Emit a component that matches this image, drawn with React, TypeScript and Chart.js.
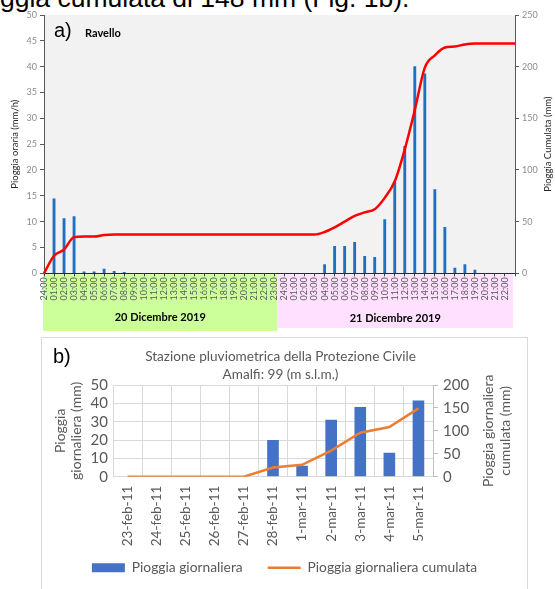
import React, { useEffect, useRef } from 'react';
import { Chart, registerables } from 'chart.js';

Chart.register(...registerables);

// ---------- Data: chart a) Ravello (hourly) ----------
const hoursDay20 = ['24:00','01:00','02:00','03:00','04:00','05:00','06:00','07:00','08:00','09:00','10:00','11:00','12:00','13:00','14:00','15:00','16:00','17:00','18:00','19:00','20:00','21:00','22:00','23:00'];
const hoursDay21 = ['24:00','01:00','02:00','03:00','04:00','05:00','06:00','07:00','08:00','09:00','10:00','11:00','12:00','13:00','14:00','15:00','16:00','17:00','18:00','19:00','20:00','21:00','22:00',''];
const hourlyRainDay20 = [0,14.4,10.6,11.0,0.3,0.3,0.8,0.4,0.2,0,0,0,0,0,0,0,0,0,0,0,0,0,0,0];
const hourlyRainDay21 = [0,0,0,0,1.7,5.2,5.2,6.0,3.3,3.1,10.4,17.6,24.6,40.0,38.6,16.2,8.9,1.0,1.7,0.6,0,0,0,0];
const cumulativeDay20 = [0,17,23,35,35.5,35.5,37,37.5,37.5,37.5,37.5,37.5,37.5,37.5,37.5,37.5,37.5,37.5,37.5,37.5,37.5,37.5,37.5,37.5];
const cumulativeDay21 = [37.5,37.5,37.5,37.5,40,44.5,50,55.5,59,62,73,89,120,158,199,211,218.5,219.5,221.5,222.5,222.5,222.5,222.5,222.5];
const dayLabels = ['20 Dicembre 2019', '21 Dicembre 2019'];

// ---------- Data: chart b) Amalfi (daily) ----------
const dates = ['23-feb-11','24-feb-11','25-feb-11','26-feb-11','27-feb-11','28-feb-11','1-mar-11','2-mar-11','3-mar-11','4-mar-11','5-mar-11'];
const dailyRain = [0,0,0,0,0,20,6,31,38,13,41.5];
const dailyCumulative = [0,0,0,0,0,20,26,57,96,108.5,149];

const FONT = 'Lato, "Open Sans", sans-serif';
const ARIAL = '"Liberation Sans", Arial, sans-serif';
Chart.defaults.font.family = FONT;

const hourLabels = [...hoursDay20, ...hoursDay21];
const hourlyRain = [...hourlyRainDay20, ...hourlyRainDay21];
const cumulativeRain = [...cumulativeDay20, ...cumulativeDay21];

const decorA = {
  id: 'decorA',
  beforeDraw(chart: any) {
    const { ctx, chartArea: ca } = chart;
    const x = chart.scales.x;
    ctx.save();
    ctx.fillStyle = '#f2f2f2';
    ctx.fillRect(ca.left, ca.top, ca.right - ca.left, ca.bottom - ca.top);
    const split = x.getPixelForValue(hoursDay20.length - 1) + 3;
    const bandTop = ca.bottom + 1;
    ctx.fillStyle = '#ccff99';
    ctx.fillRect(ca.left - 1, bandTop, split - ca.left + 1, 331 - bandTop);
    ctx.fillStyle = '#ffe1ff';
    ctx.fillRect(split, bandTop, ca.right - 2 - split, 328 - bandTop);
    ctx.fillStyle = '#000';
    ctx.font = `bold 11px ${FONT}`;
    ctx.textAlign = 'center';
    ctx.textBaseline = 'middle';
    ctx.fillText(dayLabels[0], (ca.left - 1 + split) / 2, 317);
    ctx.fillText(dayLabels[1], (split + ca.right - 2) / 2, 318);
    ctx.restore();
  },
  afterDraw(chart: any) {
    const { ctx, chartArea: ca } = chart;
    const cy = (ca.top + ca.bottom) / 2;
    ctx.save();
    ctx.fillStyle = '#262626';
    ctx.font = `9.5px ${FONT}`;
    ctx.textAlign = 'center';
    ctx.textBaseline = 'middle';
    ctx.translate(15, cy);
    ctx.rotate(-Math.PI / 2);
    ctx.fillText('Pioggia oraria (mm/h)', 0, 0);
    ctx.restore();
    ctx.save();
    ctx.fillStyle = '#262626';
    ctx.font = `9.5px ${FONT}`;
    ctx.textAlign = 'center';
    ctx.textBaseline = 'middle';
    ctx.translate(548, cy);
    ctx.rotate(-Math.PI / 2);
    ctx.fillText('Pioggia Cumulata (mm)', 0, 0);
    ctx.restore();
    ctx.save();
    ctx.fillStyle = '#000';
    ctx.textBaseline = 'alphabetic';
    ctx.textAlign = 'left';
    ctx.font = `20px ${ARIAL}`;
    ctx.fillText('a)', ca.left + 10, 37);
    ctx.font = `bold 11px ${FONT}`;
    ctx.fillText('Ravello', ca.left + 41, 37);
    ctx.restore();
  },
};

const decorB = {
  id: 'decorB',
  afterLayout(chart: any) {
    // let the rotated date labels use the room beside the legend
    const x = chart.scales.x;
    x.bottom = x.top + 80;
  },
  afterDraw(chart: any) {
    const { ctx, chartArea: ca } = chart;
    const cy = (ca.top + ca.bottom) / 2;
    ctx.save();
    ctx.fillStyle = '#595959';
    ctx.font = `13.6px ${FONT}`;
    ctx.textAlign = 'center';
    ctx.textBaseline = 'middle';
    ctx.fillText('Stazione pluviometrica della Protezione Civile', 238.5, 19);
    ctx.fillText('Amalfi: 99 (m s.l.m.)', 238.5, 37);
    ctx.font = `14px ${FONT}`;
    ctx.save();
    ctx.translate(18, cy);
    ctx.rotate(-Math.PI / 2);
    ctx.fillText('Pioggia', 0, 0);
    ctx.fillText('giornaliera (mm)', 0, 16);
    ctx.restore();
    ctx.save();
    ctx.translate(446, cy);
    ctx.rotate(-Math.PI / 2);
    ctx.fillText('Pioggia giornaliera', 0, 0);
    ctx.fillText('cumulata (mm)', 0, 17);
    ctx.restore();
    ctx.fillStyle = '#000';
    ctx.textAlign = 'left';
    ctx.textBaseline = 'alphabetic';
    ctx.font = `20px ${ARIAL}`;
    ctx.fillText('b)', 11, 25);
    ctx.restore();
  },
};

export default function App() {
  const refA = useRef<HTMLCanvasElement>(null);
  const refB = useRef<HTMLCanvasElement>(null);

  useEffect(() => {
    const chartA = new Chart(refA.current!, {
      type: 'bar',
      data: {
        labels: hourLabels,
        datasets: [
          {
            type: 'line',
            label: 'Pioggia cumulata',
            data: cumulativeRain,
            borderColor: '#ff0000',
            borderWidth: 2.5,
            pointRadius: 0,
            cubicInterpolationMode: 'monotone',
            yAxisID: 'y1',
            order: 0,
          } as any,
          {
            type: 'bar',
            label: 'Pioggia oraria',
            data: hourlyRain,
            backgroundColor: '#1f70c1',
            barThickness: 2.2,
            yAxisID: 'y',
            order: 1,
          },
        ],
      },
      options: {
        responsive: false,
        animation: false,
        layout: { padding: { top: 15, left: 0, right: 0, bottom: 0 } },
        plugins: { legend: { display: false }, tooltip: { enabled: false } },
        scales: {
          x: {
            offset: false,
            grid: { offset: false, drawOnChartArea: false, drawTicks: true, tickLength: 3, color: '#404040' },
            border: { color: '#262626', width: 1 },
            ticks: { autoSkip: false, minRotation: 90, maxRotation: 90, padding: 1, color: '#595959', font: { size: 9, family: FONT } },
            afterFit: (s: any) => { s.height = 61.7; },
          },
          y: {
            position: 'left',
            min: 0,
            max: 50,
            ticks: { stepSize: 5, autoSkip: false, color: '#8c8c8c', padding: 3, font: { size: 9, family: FONT } },
            grid: { drawOnChartArea: false, tickLength: 4, color: '#595959' },
            border: { color: '#595959' },
            afterFit: (s: any) => { s.width = 44; },
          },
          y1: {
            position: 'right',
            min: 0,
            max: 250,
            ticks: { stepSize: 50, autoSkip: false, color: '#8c8c8c', padding: 3, font: { size: 9, family: FONT } },
            grid: { drawOnChartArea: false, tickLength: 4, color: '#595959' },
            border: { color: '#595959' },
            afterFit: (s: any) => { s.width = 40; },
          },
        },
      },
      plugins: [decorA],
    });

    const padB = 4.25;
    const chartB = new Chart(refB.current!, {
      type: 'bar',
      data: {
        labels: dates,
        datasets: [
          {
            type: 'bar',
            label: 'Pioggia giornaliera',
            data: dailyRain,
            backgroundColor: '#4472c4',
            categoryPercentage: 1,
            barPercentage: 0.4,
            yAxisID: 'y',
            order: 1,
          },
          {
            type: 'line',
            label: 'Pioggia giornaliera cumulata',
            data: dailyCumulative,
            borderColor: '#ed7d31',
            backgroundColor: '#ed7d31',
            borderWidth: 2.5,
            pointRadius: 0,
            tension: 0,
            yAxisID: 'y1',
            order: 0,
          } as any,
        ],
      },
      options: {
        responsive: false,
        animation: false,
        layout: { padding: { top: 47, left: 0, right: 0, bottom: padB } },
        plugins: {
          tooltip: { enabled: false },
          legend: {
            position: 'bottom',
            labels: {
              usePointStyle: true,
              pointStyleWidth: 33,
              boxHeight: 9,
              padding: 25,
              color: '#595959',
              font: { size: 13.8, family: FONT },
              generateLabels: (chart: any) =>
                chart.data.datasets.map((ds: any, i: number) => ({
                  text: ds.label,
                  fillStyle: i === 0 ? ds.backgroundColor : 'rgba(0,0,0,0)',
                  strokeStyle: i === 0 ? ds.backgroundColor : ds.borderColor,
                  lineWidth: i === 0 ? 0 : 2.5,
                  pointStyle: i === 0 ? 'rect' : 'line',
                  hidden: false,
                  datasetIndex: i,
                  fontColor: '#595959',
                })),
            },
          },
        },
        scales: {
          x: {
            grid: { color: '#d9d9d9', drawTicks: false },
            border: { color: '#d9d9d9' },
            ticks: { autoSkip: false, minRotation: 90, maxRotation: 90, padding: 9, color: '#595959', font: { size: 13.5, family: FONT } },
            afterFit: (s: any) => {
              const lh = s.chart.legend ? s.chart.legend.height : 0;
              s.height = s.chart.height - padB - lh - 138.7;
            },
          },
          y: {
            position: 'left',
            min: 0,
            max: 50,
            ticks: { stepSize: 10, autoSkip: false, color: '#595959', padding: 5, font: { size: 15, family: FONT } },
            grid: { color: '#d9d9d9', drawTicks: false },
            border: { display: false },
            afterFit: (s: any) => { s.width = 71; },
          },
          y1: {
            position: 'right',
            min: 0,
            max: 200,
            ticks: { stepSize: 50, autoSkip: false, color: '#595959', padding: 5, font: { size: 15, family: FONT } },
            grid: { drawOnChartArea: false, tickLength: 5, color: '#bfbfbf' },
            border: { color: '#bfbfbf' },
            afterFit: (s: any) => { s.width = 94; },
          },
        },
      },
      plugins: [decorB],
    });

    return () => {
      chartA.destroy();
      chartB.destroy();
    };
  }, []);

  return (
    <div style={{ position: 'absolute', left: 0, top: 0, width: 555, height: 589, overflow: 'hidden', background: '#fff' }}>
      <div style={{ position: 'absolute', left: 0, top: 0, width: 555, height: 13, overflow: 'hidden' }}>
        <div style={{ position: 'absolute', left: 0, top: -15.4, whiteSpace: 'nowrap', font: `26.5px/26.5px ${ARIAL}`, color: '#000' }}>
          ggia cumulata di 148 mm (Fig. 1b).
        </div>
      </div>
      <canvas ref={refA} width={555} height={335} style={{ position: 'absolute', left: 0, top: 0, width: 555, height: 335 }} />
      <div style={{ position: 'absolute', left: 41, top: 337, width: 485, height: 260, border: '1px solid #d9d9d9' }}>
        <canvas ref={refB} width={485} height={251} style={{ position: 'absolute', left: 0, top: 0, width: 485, height: 251 }} />
      </div>
    </div>
  );
}
